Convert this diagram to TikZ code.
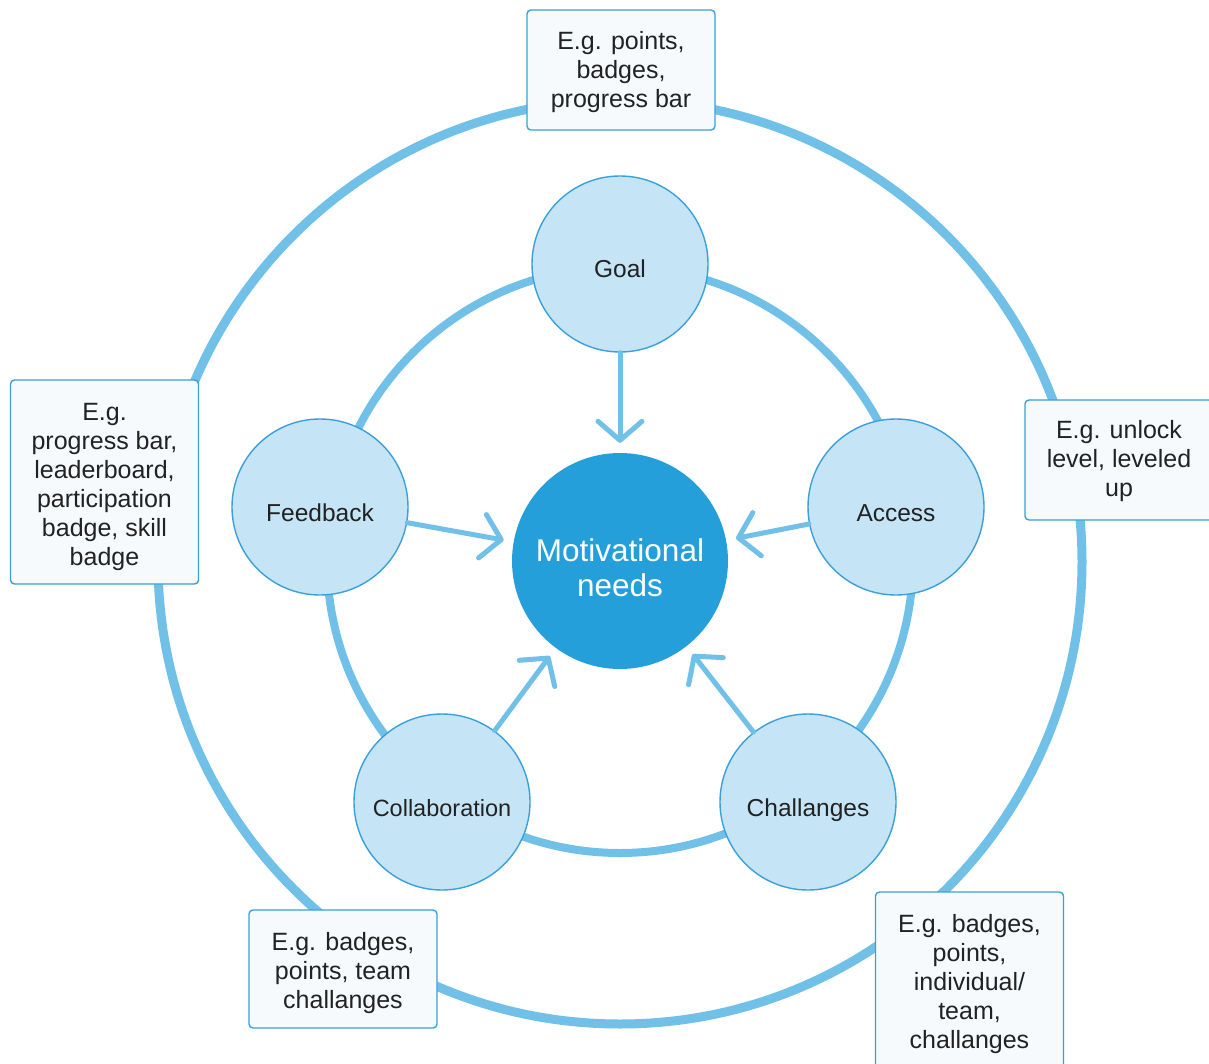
\documentclass[tikz,border=0pt]{standalone}
\usepackage{fontspec}
\setmainfont{Liberation Sans}
\usetikzlibrary{arrows.meta,backgrounds}
\definecolor{ringc}{RGB}{112,192,232}
\definecolor{mainc}{RGB}{37,159,218}
\definecolor{nodefill}{RGB}{197,229,246}
\definecolor{nodeedge}{RGB}{58,160,219}
\definecolor{boxfill}{RGB}{246,250,253}
\definecolor{txt}{RGB}{34,34,34}
\newcommand{\lift}[1]{\rule{0pt}{#1pt}}
\begin{document}
\begin{tikzpicture}[x=1pt,y=-1pt,
  ring/.style={draw=ringc},
  circ/.style={circle,draw=nodeedge,line width=1.4pt,fill=nodefill,minimum size=176pt,inner sep=0pt,
    text=txt,font=\fontsize{24.5}{28}\selectfont,text height=28pt,text depth=0pt},
  exbox/.style={draw=nodeedge,line width=1.4pt,fill=boxfill,rounded corners=4pt,minimum width=188pt,
    inner sep=0pt,align=center,text=txt,font=\fontsize{25}{29}\selectfont},
  link/.style={draw=ringc,line width=5pt},
  arr/.style={draw=ringc,line width=5pt,line cap=round,shorten >=10pt,
    -{Straight Barb[length=19pt,width=44pt,line cap=round,round]}}
]
\useasboundingbox (0,0) rectangle (1209,1064);
\clip (0,0) rectangle (1209,1064);
\fill[white] (0,0) rectangle (1209,1064);
% rings
\coordinate (ctr) at (620,562);
\draw[ring,line width=9pt] (ctr) circle[radius=462];
\draw[ring,line width=8pt] (620,560) circle[radius=293];
% centre
\node[circle,fill=mainc,minimum size=216pt,inner sep=0pt,text=white,align=center,
  font=\fontsize{31.5}{35}\selectfont] (m) at (620,561) {\lift{37}Motivational\\needs};
% topic circles
\node[circ] (goal) at (620,264) {Goal};
\node[circ] (access) at (896,507) {Access};
\node[circ,text height=29pt] (chal) at (808,802) {Challanges};
\node[circ,font=\fontsize{23.5}{26}\selectfont] (collab) at (442,802) {Collaboration};
\node[circ,text height=29pt] (feed) at (320,507) {Feedback};
% example boxes
\node[exbox,minimum height=120pt] (btop) at (621,70) {\lift{22}E.g. points,\\badges,\\progress bar};
\node[exbox,minimum height=204pt] (bleft) at (104.5,482) {\lift{28}E.g.\\progress bar,\\leaderboard,\\participation\\badge, skill\\badge};
\node[exbox,minimum height=120pt] (bright) at (1119,460) {\lift{20}E.g. unlock\\level, leveled\\up};
\node[exbox,minimum height=118pt] (bbl) at (343,969) {\lift{26}E.g. badges,\\points, team\\challanges};
\node[exbox,minimum height=180pt] (bbr) at (969.5,982) {\lift{22}E.g. badges,\\points,\\individual/\\team,\\challanges};
% links to boxes
\begin{scope}[on background layer]
\draw[link] (goal) -- (btop);
\draw[link] (feed) -- (bleft);
\draw[link] (access) -- (bright);
\draw[link] (collab) -- (bbl);
\draw[link] (chal) -- (bbr);
\end{scope}
% arrows to centre
\draw[arr] (goal) -- (m);
\draw[arr] (feed) -- (m);
\draw[arr] (access) -- (m);
\draw[arr] (collab) -- (m);
\draw[arr] (chal) -- (m);
\end{tikzpicture}
\end{document}
